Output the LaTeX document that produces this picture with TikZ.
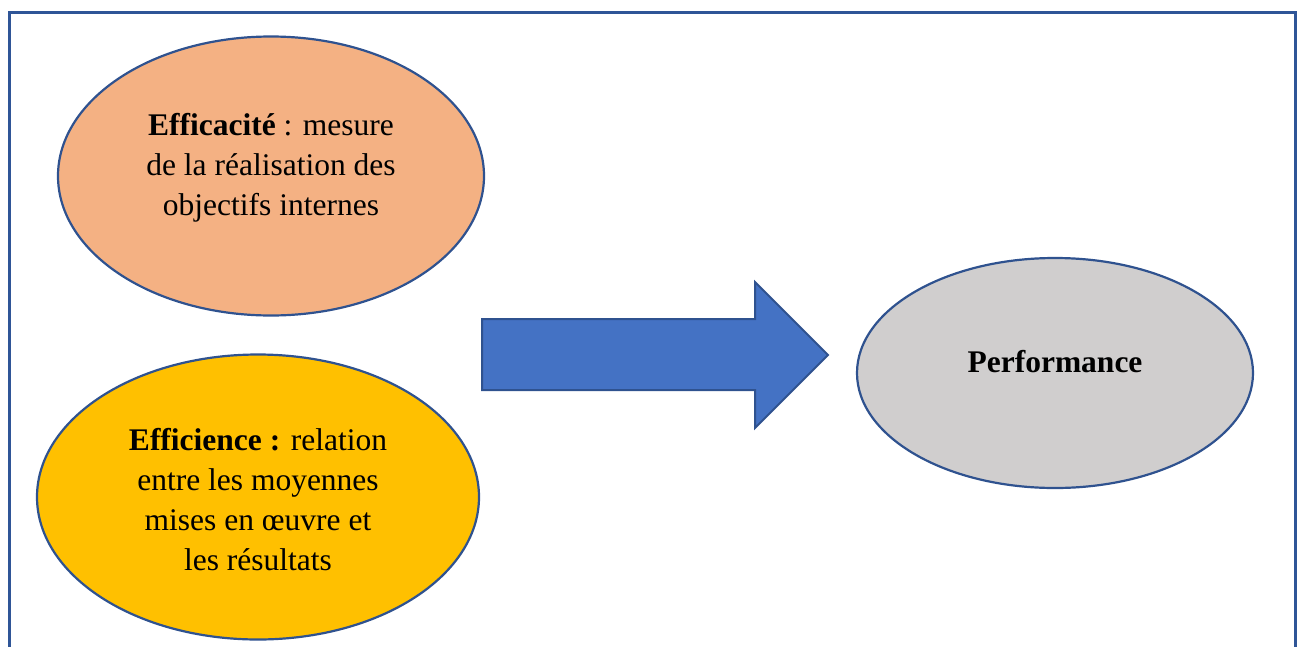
\documentclass[tikz,border=0pt]{standalone}
\usepackage{fontspec}
\setmainfont{Liberation Serif}
\usetikzlibrary{shapes.geometric}
\definecolor{framecol}{HTML}{2F5597}
\definecolor{edgecol}{HTML}{2F528F}
\definecolor{orangefill}{HTML}{F4B183}
\definecolor{goldfill}{HTML}{FFC000}
\definecolor{grayfill}{HTML}{D0CECE}
\definecolor{arrowfill}{HTML}{4472C4}
\tikzset{
  bubble/.style={ellipse, draw=edgecol, line width=2.2pt, inner sep=0pt},
  bubbletext/.style={align=center, inner sep=0pt, font=\fontsize{31.5}{40}\selectfont},
  framepart/.style={draw=framecol, line width=3pt},
  blockarrow/.style={draw=edgecol, line width=2pt, fill=arrowfill, line join=miter}
}
\begin{document}
\begin{tikzpicture}[x=1pt,y=-1pt]
\useasboundingbox (0,0) rectangle (1301,646);
% frame
\coordinate (fbl) at (9,650);
\coordinate (ftl) at (9,12);
\coordinate (ftr) at (1295,12);
\coordinate (fbr) at (1295,650);
\draw[framepart] (fbl) -- (ftl) -- (ftr) -- (fbr);
% ellipses
\node[bubble, fill=orangefill, minimum width=426pt, minimum height=279pt] (eff) at (271,176) {};
\node[bubble, fill=goldfill, minimum width=442pt, minimum height=285pt] (effi) at (258,497) {};
\node[bubble, fill=grayfill, minimum width=396pt, minimum height=230pt] (perf) at (1055,373) {};
% texts
\node[bubbletext] (efftext) at (271,168) {\textbf{Efficacité} : mesure\\de la réalisation des\\objectifs internes};
\node[bubbletext] (effitext) at (258,500) {\textbf{Efficience :} relation\\entre les moyennes\\mises en œuvre et\\les résultats};
\node[bubbletext] (perftext) at (1055,362) {\textbf{Performance}};
% block arrow
\coordinate (a1) at (482,319);
\coordinate (a2) at (755,319);
\coordinate (a3) at (755,282);
\coordinate (a4) at (828,355);
\coordinate (a5) at (755,428);
\coordinate (a6) at (755,390);
\coordinate (a7) at (482,390);
\draw[blockarrow] (a1) -- (a2) -- (a3) -- (a4) -- (a5) -- (a6) -- (a7) -- cycle;
\end{tikzpicture}
\end{document}
